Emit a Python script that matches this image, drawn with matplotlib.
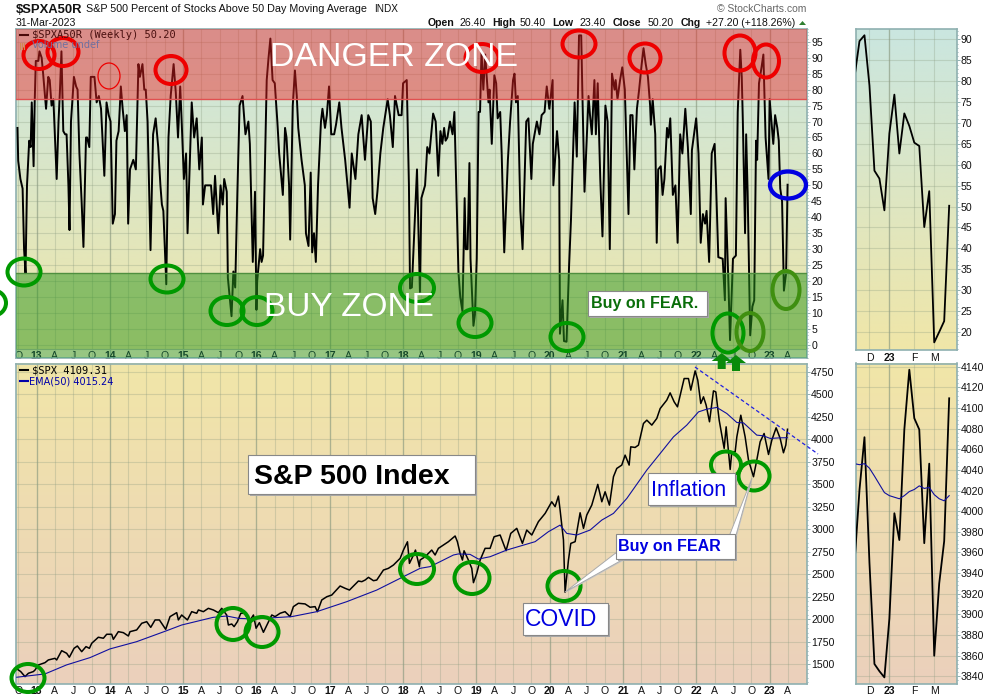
import numpy as np
import matplotlib
matplotlib.use("Agg")
import matplotlib.pyplot as plt
from matplotlib.colors import LinearSegmentedColormap
from matplotlib.patches import Ellipse, Polygon, Rectangle
from matplotlib.ticker import MultipleLocator

plt.rcParams['font.family'] = ['Liberation Sans', 'DejaVu Sans']

# weekly % of stocks above 50 DMA
pct_dates = [2012.74, 2012.75, 2012.78, 2012.81, 2012.83, 2012.85, 2012.87, 2012.90, 2012.92, 2012.935, 2012.96, 2012.975, 2012.99,
    2013.025, 2013.04, 2013.07, 2013.09, 2013.13, 2013.16, 2013.18, 2013.205, 2013.23, 2013.275, 2013.30, 2013.32, 2013.34, 2013.365,
    2013.39, 2013.41, 2013.435, 2013.45, 2013.47, 2013.51, 2013.54, 2013.56, 2013.585, 2013.615, 2013.64, 2013.675, 2013.69, 2013.72,
    2013.74, 2013.79, 2013.82, 2013.85, 2013.88, 2013.925, 2013.955, 2013.985,
    2014.01, 2014.04, 2014.07, 2014.09, 2014.12, 2014.15, 2014.175, 2014.205, 2014.23, 2014.25, 2014.275, 2014.32, 2014.355, 2014.39,
    2014.41, 2014.445, 2014.47, 2014.49, 2014.515, 2014.555, 2014.59, 2014.625, 2014.66, 2014.69, 2014.71, 2014.73, 2014.77, 2014.80,
    2014.83, 2014.87, 2014.90, 2014.93, 2014.96, 2014.98,
    2015.01, 2015.04, 2015.06, 2015.117, 2015.15, 2015.185, 2015.22, 2015.255, 2015.27, 2015.30, 2015.38, 2015.41, 2015.435, 2015.455,
    2015.48, 2015.51, 2015.54, 2015.56, 2015.595, 2015.61, 2015.66, 2015.685, 2015.71, 2015.74, 2015.77, 2015.81, 2015.85, 2015.89,
    2015.91, 2015.95, 2015.98,
    2016.0, 2016.01, 2016.05, 2016.07, 2016.09, 2016.14, 2016.165, 2016.19, 2016.22, 2016.25, 2016.285, 2016.31, 2016.36, 2016.39,
    2016.41, 2016.445, 2016.46, 2016.495, 2016.525, 2016.55, 2016.57, 2016.615, 2016.66, 2016.675, 2016.71, 2016.74, 2016.76, 2016.785,
    2016.81, 2016.84, 2016.88, 2016.90, 2016.935, 2016.96, 2016.99,
    2017.02, 2017.06, 2017.085, 2017.13, 2017.16, 2017.21, 2017.27, 2017.30, 2017.35, 2017.39, 2017.435, 2017.48, 2017.525, 2017.56,
    2017.585, 2017.62, 2017.65, 2017.69, 2017.73, 2017.77, 2017.79, 2017.82, 2017.86, 2017.89, 2017.94, 2017.98,
    2018.0, 2018.05, 2018.08, 2018.095, 2018.12, 2018.19, 2018.23, 2018.25, 2018.30, 2018.33, 2018.36, 2018.41, 2018.445, 2018.48,
    2018.51, 2018.535, 2018.56, 2018.58, 2018.605, 2018.64, 2018.675, 2018.70, 2018.73, 2018.755, 2018.78, 2018.81, 2018.84, 2018.855,
    2018.88, 2018.905, 2018.92, 2018.96, 2018.98,
    2019.005, 2019.03, 2019.05, 2019.07, 2019.095, 2019.12, 2019.165, 2019.18, 2019.21, 2019.245, 2019.27, 2019.29, 2019.325, 2019.345,
    2019.38, 2019.43, 2019.46, 2019.50, 2019.52, 2019.54, 2019.565, 2019.60, 2019.63, 2019.68, 2019.71, 2019.75, 2019.77, 2019.825,
    2019.86, 2019.89, 2019.93, 2019.96, 2019.995,
    2020.04, 2020.05, 2020.10, 2020.13, 2020.14, 2020.175, 2020.195, 2020.23, 2020.265, 2020.29, 2020.34, 2020.37, 2020.40, 2020.43,
    2020.445, 2020.475, 2020.53, 2020.55, 2020.575, 2020.61, 2020.63, 2020.655, 2020.69, 2020.72, 2020.76, 2020.79, 2020.82, 2020.85,
    2020.885, 2020.90, 2020.925, 2020.96, 2020.99,
    2021.025, 2021.05, 2021.075, 2021.10, 2021.13, 2021.155, 2021.19, 2021.22, 2021.255, 2021.28, 2021.31, 2021.34, 2021.37, 2021.38,
    2021.405, 2021.44, 2021.46, 2021.48, 2021.515, 2021.54, 2021.565, 2021.60, 2021.62, 2021.645, 2021.68, 2021.715, 2021.745, 2021.78,
    2021.81, 2021.85, 2021.885, 2021.925, 2021.94, 2021.998,
    2022.03, 2022.06, 2022.09, 2022.12, 2022.14, 2022.175, 2022.21, 2022.25, 2022.27, 2022.30, 2022.36, 2022.39, 2022.40, 2022.44,
    2022.46, 2022.50, 2022.54, 2022.565, 2022.60, 2022.62, 2022.635, 2022.665, 2022.68, 2022.70, 2022.735, 2022.765, 2022.79, 2022.815,
    2022.83, 2022.855, 2022.89, 2022.915, 2022.945, 2022.985,
    2023.0, 2023.05, 2023.075, 2023.105, 2023.125, 2023.145, 2023.17, 2023.195, 2023.225, 2023.245]
pct_values = [68, 57.7, 52, 49, 30, 22.5, 50, 64, 62, 76, 56, 76, 89,
    89, 92, 90, 85, 74, 84, 83, 75, 77, 52, 70, 80, 92, 67,
    66, 66, 50, 36, 70, 84, 81, 80, 60, 45, 30.7, 65, 65, 62,
    84, 84, 76, 78, 74, 53, 76, 72,
    70, 38, 41, 64, 67, 81, 74, 67, 72, 38, 55, 58, 55, 88,
    84, 88, 80, 80, 70, 29.7, 66, 71, 62, 50, 44, 42, 19, 65,
    78, 88, 79, 65, 81, 70,
    52, 60, 35, 76, 65, 71, 55, 65, 44, 50, 50, 41, 53, 45,
    35, 50, 44, 52, 48, 21, 9, 23, 18, 48, 75, 78, 66, 70,
    63, 26, 48,
    11, 20, 30, 26, 28, 83, 90, 96, 83, 82, 70, 60, 47, 68,
    65, 50, 33, 75, 86, 78, 68, 58, 50, 35, 31, 54, 29, 35,
    26, 50, 70, 74, 68, 72, 81,
    66, 66, 69, 76, 68, 58, 43, 60, 52, 66, 72, 58, 72, 70,
    46, 41, 48, 60, 68, 74, 77, 72, 62, 78, 72, 72,
    82, 83, 50, 17.7, 18, 55, 16.6, 46, 50, 62, 60, 72.5, 70, 53,
    67, 63, 68, 64, 65, 70, 66, 73, 45, 23, 15, 10.5, 46, 30,
    30, 57, 27, 6, 9.5,
    27, 73, 73, 92, 80, 91, 76, 80, 63, 84.5, 82, 71, 73, 60,
    29, 58, 70, 83, 85, 76, 78, 42, 30, 70, 71, 52, 63, 70,
    66, 72, 73, 81, 74,
    83, 50, 67, 58, 3.5, 14, 1.2, 1, 25, 39, 76, 59, 97, 97,
    80, 48, 78, 72, 66, 83, 66, 82, 52, 34, 75, 70, 30, 85,
    80, 83, 77, 83, 87,
    80, 60, 41, 72, 72, 55, 74, 80, 88, 93, 88, 84, 75, 69,
    77, 66, 32, 55, 56, 47, 52, 68, 65, 71, 47, 50, 32, 66,
    60, 74, 62, 41, 61, 71,
    60, 32, 41, 38, 42, 26, 60, 63, 50, 27.5, 27, 14, 46, 18,
    1.5, 27, 28, 73, 92.5, 84, 70, 35, 66, 48, 3, 12, 14, 64,
    58, 82, 87, 91, 65, 52,
    77, 63, 72, 68, 64, 49, 45, 17, 22.5, 50.2]

# S&P 500 weekly close
spx_dates = [2012.74, 2012.784, 2012.843, 2012.889, 2012.957, 2012.98,
    2013.025, 2013.116, 2013.161, 2013.252, 2013.275, 2013.343, 2013.411, 2013.448, 2013.512, 2013.557, 2013.616, 2013.675, 2013.721,
    2013.753, 2013.843, 2013.912, 2013.957,
    2014.025, 2014.048, 2014.116, 2014.184, 2014.253, 2014.275, 2014.366, 2014.435, 2014.503, 2014.558, 2014.617, 2014.676, 2014.762,
    2014.821, 2014.912, 2014.935, 2014.98,
    2015.058, 2015.117, 2015.185, 2015.208, 2015.276, 2015.344, 2015.412, 2015.48, 2015.526, 2015.594, 2015.617, 2015.663, 2015.695,
    2015.74, 2015.786, 2015.845, 2015.89, 2015.922, 2015.959, 2015.995,
    2016.04, 2016.095, 2016.154, 2016.209, 2016.254, 2016.322, 2016.39, 2016.459, 2016.504, 2016.572, 2016.663, 2016.732, 2016.8,
    2016.832, 2016.891, 2016.96,
    2017.028, 2017.141, 2017.21, 2017.269, 2017.323, 2017.391, 2017.437, 2017.482, 2017.528, 2017.596, 2017.641, 2017.732, 2017.8,
    2017.869, 2017.96,
    2018.005, 2018.06, 2018.087, 2018.142, 2018.169, 2018.223, 2018.232, 2018.30, 2018.323, 2018.391, 2018.437, 2018.482, 2018.55,
    2018.619, 2018.71, 2018.741, 2018.778, 2018.81, 2018.832, 2018.891, 2018.937, 2018.96,
    2019.005, 2019.051, 2019.119, 2019.187, 2019.242, 2019.324, 2019.405, 2019.469, 2019.551, 2019.628, 2019.687, 2019.756, 2019.846,
    2019.938,
    2020.028, 2020.074, 2020.119, 2020.142, 2020.188, 2020.21, 2020.256, 2020.288, 2020.347, 2020.415, 2020.461, 2020.506, 2020.574,
    2020.656, 2020.711, 2020.756, 2020.815, 2020.87, 2020.915, 2020.983,
    2021.029, 2021.084, 2021.106, 2021.165, 2021.211, 2021.279, 2021.325, 2021.393, 2021.461, 2021.507, 2021.597, 2021.643, 2021.698,
    2021.743, 2021.834, 2021.893, 2021.925, 2021.984,
    2022.02, 2022.061, 2022.098, 2022.134, 2022.18, 2022.234, 2022.266, 2022.312, 2022.38, 2022.407, 2022.462, 2022.484, 2022.53,
    2022.553, 2022.607, 2022.666, 2022.712, 2022.78, 2022.825, 2022.871, 2022.925, 2022.985,
    2023.03, 2023.089, 2023.144, 2023.189, 2023.221, 2023.244]
spx_values = [1444, 1419, 1363, 1400, 1419, 1437,
    1492, 1518, 1548, 1566, 1548, 1651, 1622, 1578, 1677, 1703, 1640, 1696, 1677,
    1733, 1800, 1789, 1833,
    1833, 1777, 1862, 1851, 1814, 1862, 1881, 1955, 1973, 1910, 1992, 1992, 1888,
    2029, 2073, 1992, 2047,
    1992, 2084, 2066, 2103, 2084, 2121, 2103, 2073, 2121, 2047, 1936, 1947, 1918,
    1973, 2066, 2066, 1992, 2000, 2047, 1900,
    1962, 1855, 1955, 2047, 2029, 2066, 2084, 2029, 2140, 2177, 2170, 2133, 2140,
    2084, 2214, 2250,
    2269, 2369, 2343, 2324, 2369, 2424, 2417, 2435, 2465, 2428, 2435, 2546, 2565,
    2602, 2676,
    2768, 2860, 2620, 2713, 2768, 2583, 2657, 2694, 2713, 2768, 2713, 2787, 2824,
    2861, 2924, 2861, 2731, 2657, 2760, 2657, 2565, 2406,
    2510, 2657, 2787, 2787, 2916, 2935, 2761, 2953, 3009, 2842, 2990, 2935, 3083,
    3175,
    3304, 3250, 3367, 3212, 2879, 2300, 2657, 2842, 2861, 3182, 3009, 3157, 3267,
    3497, 3304, 3415, 3267, 3582, 3674, 3711,
    3822, 3711, 3914, 3907, 3933, 4173, 4210, 4155, 4229, 4339, 4432, 4513, 4413,
    4358, 4672, 4672, 4543, 4757,
    4654, 4395, 4469, 4377, 4192, 4535, 4524, 4210, 3896, 4136, 3663, 3859, 3859,
    4025, 4265, 4025, 3767, 3582, 3767, 3970, 4062, 3829,
    3988, 4125, 4007, 3848, 3933, 4109]

# EMA(50) of the close
ema_dates = [2012.73, 2013.116, 2013.41, 2013.73, 2014.0, 2014.366, 2014.776, 2014.98, 2015.41, 2015.594, 2015.754, 2015.958,
    2016.481, 2016.823, 2017.232, 2017.641, 2017.96, 2018.232, 2018.368, 2018.505, 2018.687, 2018.755, 2018.914, 2019.028, 2019.187,
    2019.414, 2019.801, 2019.983, 2020.142, 2020.233, 2020.37, 2020.551, 2020.711, 2020.87, 2021.052, 2021.325, 2021.507, 2021.689,
    2021.87, 2022.03, 2022.143, 2022.28, 2022.416, 2022.553, 2022.644, 2022.825, 2022.916, 2023.008, 2023.144, 2023.244]
ema_values = [1356, 1393, 1493, 1574, 1670, 1751, 1873, 1936, 2021, 2036, 2010, 2003,
    2029, 2084, 2195, 2324, 2454, 2565, 2584, 2639, 2713, 2725, 2720, 2668, 2694,
    2768, 2861, 2972, 3045, 2953, 2935, 2990, 3101, 3175, 3341, 3656, 3840, 4025,
    4155, 4302, 4332, 4351, 4284, 4184, 4180, 4044, 4036, 4007, 4014, 4015]

# last 20 weeks, inset panels (weeks run on from 0)
zoom_weeks = list(range(20))
zoom_pct = [81, 89.6, 91, 79, 58.6, 56.7, 49.1, 67.5, 76.8, 62.7, 72.3, 69.3, 65.3, 64.5, 45.1, 53.7, 17.5, 20, 22.6, 50.2]
zoom_spx = [3950, 4020.6, 4071.6, 3950, 3852, 3845, 3839, 3896, 3998, 3972, 4079, 4137, 4090, 4079, 3969, 4046, 3860, 3930, 3971, 4109.3]
zoom_ema = [4046, 4045, 4046, 4041.6, 4034, 4026, 4018, 4015, 4013.5, 4012, 4015, 4019, 4021, 4024.5, 4022, 4023, 4016, 4012, 4010, 4015]

quarter_labels = ['O', '13', 'A', 'J', 'O', '14', 'A', 'J', 'O', '15', 'A', 'J', 'O', '16', 'A', 'J', 'O', '17', 'A', 'J', 'O',
    '18', 'A', 'J', 'O', '19', 'A', 'J', 'O', '20', 'A', 'J', 'O', '21', 'A', 'J', 'O', '22', 'A', 'J', 'O', '23', 'A']
zoom_tick_weeks = [3, 7, 12, 16]
zoom_tick_labels = ['D', '23', 'F', 'M']

FRAME = '#8fb0b0'
GRID = '#8a9a80'
TICK_SIZE = 7.6


def panel(x0, y0, x1, y1):
    # pixel box -> axes
    return fig.add_axes([x0 / 1000, 1 - y1 / 700, (x1 - x0) / 1000, (y1 - y0) / 700])


def dress(ax, xlim, ylim, xticks, xlabels, yticks, pad, top_color, bottom_color):
    cmap = LinearSegmentedColormap.from_list('bg', [bottom_color, top_color])
    ax.imshow(np.linspace(0, 1, 256).reshape(-1, 1), extent=[0, 1, 0, 1], transform=ax.transAxes,
              aspect='auto', cmap=cmap, origin='lower', zorder=0)
    ax.set_xlim(*xlim)
    ax.set_ylim(*ylim)
    ax.set_xticks(xticks)
    ax.set_xticklabels(xlabels)
    ax.set_yticks(yticks)
    ax.yaxis.tick_right()
    ax.tick_params(axis='x', length=0, pad=pad, labelsize=TICK_SIZE, labelcolor='#111111')
    ax.tick_params(axis='y', length=2, width=0.7, color=FRAME, pad=1, labelsize=TICK_SIZE, labelcolor='#111111')
    for tick_label in ax.get_xticklabels():
        if tick_label.get_text().isdigit():
            tick_label.set_fontweight('bold')
    ax.grid(True, color=GRID, alpha=0.3, lw=0.8, zorder=1)
    for x, lab in zip(xticks, xlabels):
        if lab.isdigit():
            ax.axvline(x, color=GRID, alpha=0.5, lw=1, zorder=1)
    for spine in ax.spines.values():
        spine.set_color(FRAME)
        spine.set_linewidth(1.2)


fig = plt.figure(figsize=(10, 7), dpi=100, facecolor='white')

quarter_ticks = [2012.75 + 0.25 * i for i in range(len(quarter_labels))]
main_xlim = (2012.72, 2023.51)
zoom_xlim = (0.2, 20.47)

# top main panel
ax_pct = panel(16, 29, 807, 358)
dress(ax_pct, main_xlim, (-4.1, 99), quarter_ticks, quarter_labels, list(range(0, 100, 5)), -5, '#cae6e0', '#f0e6a8')
ax_pct.plot(pct_dates, pct_values, color='black', lw=1.4, zorder=3, solid_joinstyle='round')
ax_pct.add_patch(Rectangle((main_xlim[0], 77), main_xlim[1] - main_xlim[0], 22, facecolor='#ee2222', alpha=0.45,
                           edgecolor='none', zorder=4))
ax_pct.axhline(77, color='#e05050', lw=1, zorder=4)
ax_pct.add_patch(Rectangle((main_xlim[0], -1.35), main_xlim[1] - main_xlim[0], 23.75, facecolor='#2a961e', alpha=0.5,
                           edgecolor='none', zorder=4))
ax_pct.add_patch(Rectangle((main_xlim[0], -4.1), main_xlim[1] - main_xlim[0], 2.75, facecolor='#1f9a4f', alpha=0.42,
                           edgecolor='none', zorder=4))
ax_pct.axhline(22.4, color='#4f8f3f', lw=1, zorder=4)
ax_pct.axhline(-1.35, color='#6fa868', lw=0.8, zorder=4)

# bottom main panel
ax_spx = panel(16, 363.5, 807, 684)
dress(ax_spx, main_xlim, (1281, 4839), quarter_ticks, quarter_labels, list(range(1500, 5000, 250)), 1.5, '#f1e6a8', '#ebd0bc')
ax_spx.plot(spx_dates, spx_values, color='black', lw=1.1, zorder=3)
ax_spx.plot(ema_dates, ema_values, color='#1010a0', lw=0.8, zorder=3)

# right insets
ax_zpct = panel(855.5, 29, 956.5, 349.5)
dress(ax_zpct, zoom_xlim, (15.8, 92.5), zoom_tick_weeks, zoom_tick_labels, list(range(20, 95, 5)), 2.5, '#cae6e0', '#f0e6a8')
ax_zpct.plot(zoom_weeks, zoom_pct, color='black', lw=1.3, zorder=3)

ax_zspx = panel(855.5, 363.5, 956.5, 684)
dress(ax_zspx, zoom_xlim, (3832.6, 4143), zoom_tick_weeks, zoom_tick_labels, list(range(3840, 4160, 20)), 1.5, '#f1e6a8', '#ebd0bc')
ax_zspx.plot(zoom_weeks, zoom_spx, color='black', lw=1.3, zorder=3)
ax_zspx.plot(zoom_weeks, zoom_ema, color='#1010a0', lw=0.8, zorder=3)

# small side ticks along each right edge
for ax, step in [(ax_pct, 1), (ax_spx, 50), (ax_zpct, 1), (ax_zspx, 4)]:
    ax.yaxis.set_minor_locator(MultipleLocator(step))
    ax.tick_params(axis='y', which='minor', length=1, width=0.7, color=FRAME)

# everything drawn by hand on the chart goes on a pixel overlay
over = fig.add_axes([0, 0, 1, 1], zorder=10)
over.set_xlim(0, 1000)
over.set_ylim(700, 0)
over.axis('off')
over.patch.set_alpha(0)

# header
over.text(16, 10, '$SPXA50R', fontsize=9.4, fontweight='bold', va='center', color='#111111')
over.text(86, 9.5, 'S&P 500 Percent of Stocks Above 50 Day Moving Average', fontsize=7.75, va='center', color='#111111')
over.text(374, 9.5, 'INDX', fontsize=7.2, va='center', color='#111111')
over.text(16, 22.5, '31-Mar-2023', fontsize=7.6, va='center', color='#111111')
over.text(806, 9.5, '© StockCharts.com', fontsize=7.5, va='center', ha='right', color='#666666')
header_parts = [(428, 'Open', True), (460, '26.40', False), (492.7, 'High', True), (520, '50.40', False),
                (552.7, 'Low', True), (579, '23.40', False), (612.7, 'Close', True), (647.7, '50.20', False),
                (680.7, 'Chg', True), (706, '+27.20 (+118.26%)', False)]
for x, part, is_bold in header_parts:
    over.text(x, 22.5, part, fontsize=7.6, va='center', fontweight='bold' if is_bold else 'normal', color='#111111')
over.add_patch(Polygon([(799, 25), (806, 25), (802.5, 21)], color='#2f7f2f', lw=0))

# panel legends
over.plot([20, 28], [35, 35], color='#4a0a0a', lw=1.5)
over.text(32, 35.5, '$SPXA50R (Weekly) 50.20', fontsize=7.5, family='DejaVu Sans Mono', va='center', color='#4a1010')
for bar_x in (20, 22, 24):
    over.plot([bar_x, bar_x], [43, 49], color='#d08a50', lw=0.8)
over.text(32, 45.5, 'Volume undef', fontsize=7, family='DejaVu Sans', va='center', color='#7070a0')
over.plot([20, 28], [370, 370], color='black', lw=1.5)
over.text(32, 370.5, '$SPX 4109.31', fontsize=7.5, family='DejaVu Sans Mono', va='center', color='black')
over.plot([20, 28], [381, 381], color='#0000aa', lw=1.5)
over.text(29, 381.5, 'EMA(50) 4015.24', fontsize=7, family='DejaVu Sans', va='center', color='#0000aa')

# big zone words
over.text(394, 57, 'DANGER ZONE', fontsize=24.4, color='white', ha='center', va='center')
over.text(349, 308, 'BUY ZONE', fontsize=24, color='white', ha='center', va='center')

# trend line
over.plot([695, 818], [367, 454], color='#2020e0', lw=0.9, ls=(0, (3, 2)))

# circles: x, y, width, height
RED = '#ee0000'
GREEN = '#009900'
OLIVE = '#3f8f10'
red_rings = [(39, 55, 31, 28), (63, 52, 31, 28), (171, 70, 31, 28), (482, 58, 33, 28), (579, 44, 33, 27),
             (645, 58, 31, 29), (740, 53, 31, 35), (766, 61, 26, 33)]
green_rings = [(24, 272, 33, 27), (-8, 303, 28, 26), (167, 279, 33, 27), (227, 311, 33, 28), (257, 311, 31, 28),
               (417, 288, 34, 28), (475, 323, 33, 28), (567, 337, 33, 28), (728, 333, 31, 39),
               (28, 678, 33, 28), (233, 624, 33, 32), (262, 632, 33, 30), (417, 569, 34, 30), (472, 578, 35, 32),
               (564, 586, 33, 30), (726, 465, 30, 27), (754, 476, 31, 29)]
olive_rings = [(750, 332, 27, 38), (786, 290, 27, 38)]
for rings, color in [(red_rings, RED), (green_rings, GREEN), (olive_rings, OLIVE)]:
    for x, y, w, h in rings:
        over.add_patch(Ellipse((x, y), w, h, facecolor='none', edgecolor=color, lw=2.9))
over.add_patch(Ellipse((109, 76), 22, 26, facecolor='none', edgecolor=RED, lw=0.9))
over.add_patch(Ellipse((788, 185), 36, 27, facecolor='none', edgecolor='#0000e0', lw=3.1))

# green up arrows
for cx, tip in [(721.7, 353), (736, 355)]:
    over.add_patch(Polygon([(cx, tip), (cx + 10, tip + 8), (cx + 4, tip + 8), (cx + 4, tip + 16), (cx - 4, tip + 16),
                            (cx - 4, tip + 8), (cx - 10, tip + 8)], color='#0a8a0a', lw=0))


def box(x0, y0, x1, y1, label, color, size, bold=False, tx=None, dy=0):
    over.add_patch(Rectangle((x0 + 2, y0 + 2), x1 - x0, y1 - y0, facecolor='#a8a8a8', edgecolor='none'))
    over.add_patch(Rectangle((x0, y0), x1 - x0, y1 - y0, facecolor='white', edgecolor='#888888', lw=0.8))
    over.text(x0 + 3 if tx is None else tx, (y0 + y1) / 2 + dy, label, fontsize=size, color=color, va='center',
              fontweight='bold' if bold else 'normal')


box(588, 291, 707, 316, 'Buy on FEAR.', '#0a6e0a', 11.5, True)
box(248, 455, 475, 494, 'S&P 500 Index', 'black', 20.5, True, 254, 2)
box(648, 473, 735, 505, 'Inflation', '#0000e0', 15.5, False, 651, 2)
box(523, 603, 608, 635, 'COVID', '#0000e0', 16.5, False, 525, 1)

# callout with two tails
over.add_patch(Polygon([(616, 554), (565.5, 593), (623, 561)], facecolor='#c8c8c8', edgecolor='none'))
over.add_patch(Polygon([(731, 535), (752.5, 479), (736.5, 538)], facecolor='#c8c8c8', edgecolor='none'))
over.add_patch(Polygon([(615.7, 553), (565, 592), (622, 560)], facecolor='white', edgecolor='#aaaaaa', lw=0.7))
over.add_patch(Polygon([(730, 534), (752, 478), (735.5, 537)], facecolor='white', edgecolor='#aaaaaa', lw=0.7))
box(616, 534, 735, 559, 'Buy on FEAR', '#0000e0', 11.5, True, 618)

fig.savefig('out.png', dpi=100)
